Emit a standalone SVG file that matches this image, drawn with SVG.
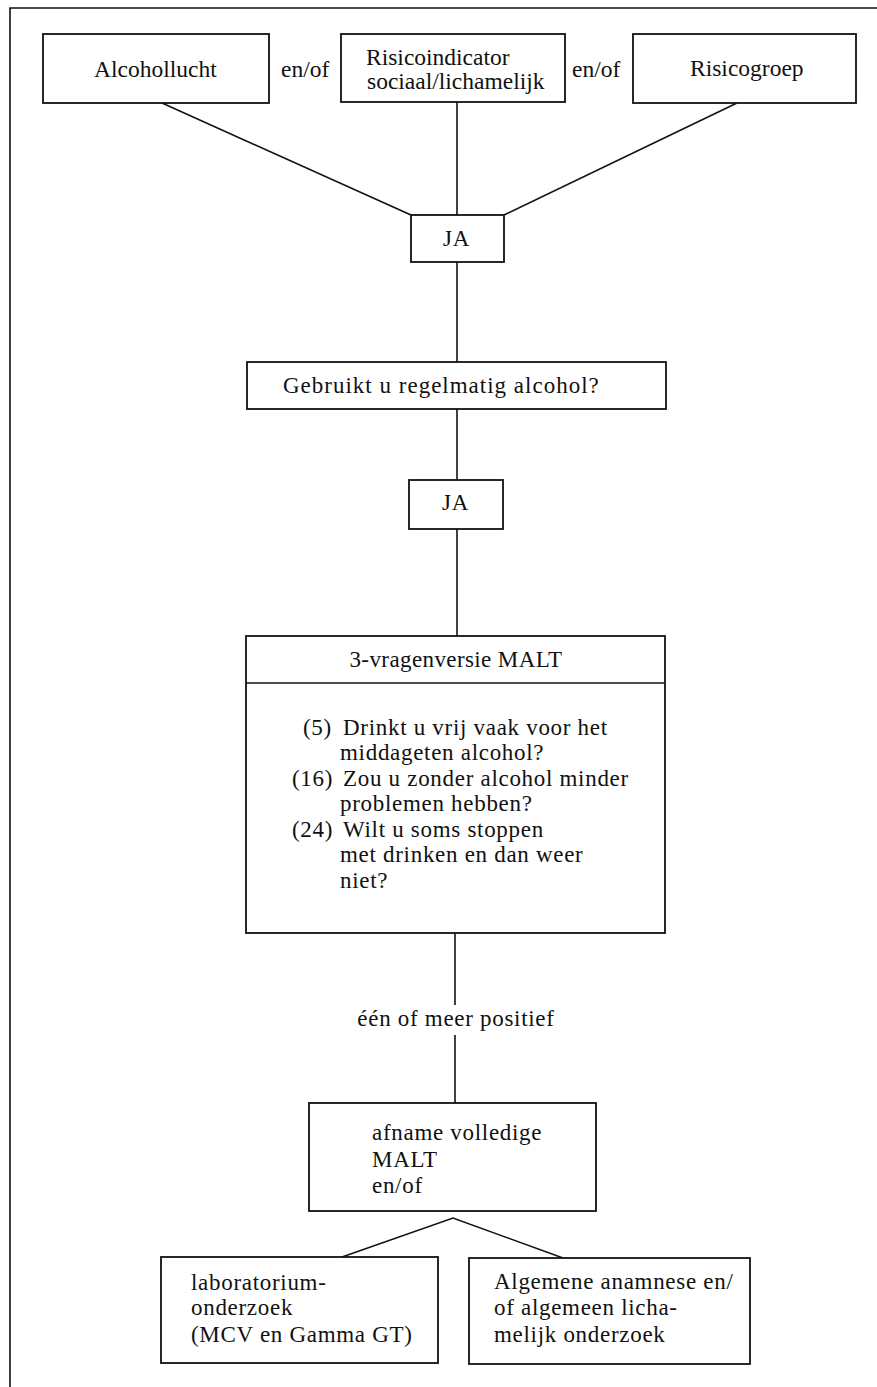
<svg xmlns="http://www.w3.org/2000/svg" width="877" height="1387" viewBox="0 0 877 1387">
<style>
.box{fill:#fff;stroke:#111;stroke-width:1.8}
.ln{fill:none;stroke:#111;stroke-width:1.6}
.t{font-family:"Liberation Serif","Times New Roman",serif;fill:#111}
.top{font-size:23.5px}
.b{font-size:23px;letter-spacing:0.7px}
</style>
<rect width="877" height="1387" fill="#fff"/>
<path class="ln" d="M10 1387 V8 H877"/>
<g id="connectors">
<line class="ln" x1="162" y1="103" x2="411" y2="215"/>
<line class="ln" x1="457" y1="102" x2="457" y2="215"/>
<line class="ln" x1="737" y1="103" x2="504" y2="215"/>
<line class="ln" x1="457" y1="262" x2="457" y2="362"/>
<line class="ln" x1="457" y1="409" x2="457" y2="480"/>
<line class="ln" x1="457" y1="529" x2="457" y2="636"/>
<line class="ln" x1="455" y1="933" x2="455" y2="1005"/>
<line class="ln" x1="455" y1="1035" x2="455" y2="1103"/>
<polyline class="ln" points="342,1257 453,1218 563,1258"/>
</g>
<g id="alcohollucht"><rect class="box" x="43" y="34" width="226" height="69"/><text class="t top" x="94" y="77">Alcohollucht</text></g>
<g id="enof1"><text class="t top" x="281" y="77">en/of</text></g>
<g id="risicoindicator"><rect class="box" x="341" y="34" width="224" height="68"/><text class="t top" x="366" y="65">Risicoindicator</text><text class="t top" x="367" y="89">sociaal/lichamelijk</text></g>
<g id="enof2"><text class="t top" x="572" y="77">en/of</text></g>
<g id="risicogroep"><rect class="box" x="633" y="34" width="223" height="69"/><text class="t top" x="690" y="76">Risicogroep</text></g>
<g id="ja1"><rect class="box" x="411" y="215" width="93" height="47"/><text class="t b" x="443" y="246">JA</text></g>
<g id="gebruikt"><rect class="box" x="247" y="362" width="419" height="47"/><text class="t b" x="283" y="393" style="letter-spacing:1px">Gebruikt u regelmatig alcohol?</text></g>
<g id="ja2"><rect class="box" x="409" y="480" width="94" height="49"/><text class="t b" x="442" y="510">JA</text></g>
<g id="malt"><rect class="box" x="246" y="636" width="419" height="297"/><line class="ln" x1="246" y1="683" x2="665" y2="683"/>
<text class="t b" x="456" y="667" text-anchor="middle" style="letter-spacing:0.4px">3-vragenversie MALT</text>
<text class="t b" x="303" y="735">(5)</text><text class="t b" x="343" y="735">Drinkt u vrij vaak voor het</text>
<text class="t b" x="340" y="760">middageten alcohol?</text>
<text class="t b" x="292" y="786">(16)</text><text class="t b" x="343" y="786">Zou u zonder alcohol minder</text>
<text class="t b" x="340" y="811">problemen hebben?</text>
<text class="t b" x="292" y="837">(24)</text><text class="t b" x="343" y="837">Wilt u soms stoppen</text>
<text class="t b" x="340" y="862">met drinken en dan weer</text>
<text class="t b" x="340" y="888">niet?</text></g>
<g id="positief"><text class="t b" x="456" y="1026" text-anchor="middle">één of meer positief</text></g>
<g id="afname"><rect class="box" x="309" y="1103" width="287" height="108"/><text class="t b" x="372" y="1140">afname volledige</text><text class="t b" x="372" y="1167">MALT</text><text class="t b" x="372" y="1193">en/of</text></g>
<g id="lab"><rect class="box" x="161" y="1257" width="277" height="106"/><text class="t b" x="191" y="1290">laboratorium-</text><text class="t b" x="191" y="1315">onderzoek</text><text class="t b" x="191" y="1342">(MCV en Gamma GT)</text></g>
<g id="algemene"><rect class="box" x="469" y="1258" width="281" height="106"/><text class="t b" x="494" y="1289">Algemene anamnese en/</text><text class="t b" x="494" y="1315">of algemeen licha-</text><text class="t b" x="494" y="1342">melijk onderzoek</text></g>
</svg>
